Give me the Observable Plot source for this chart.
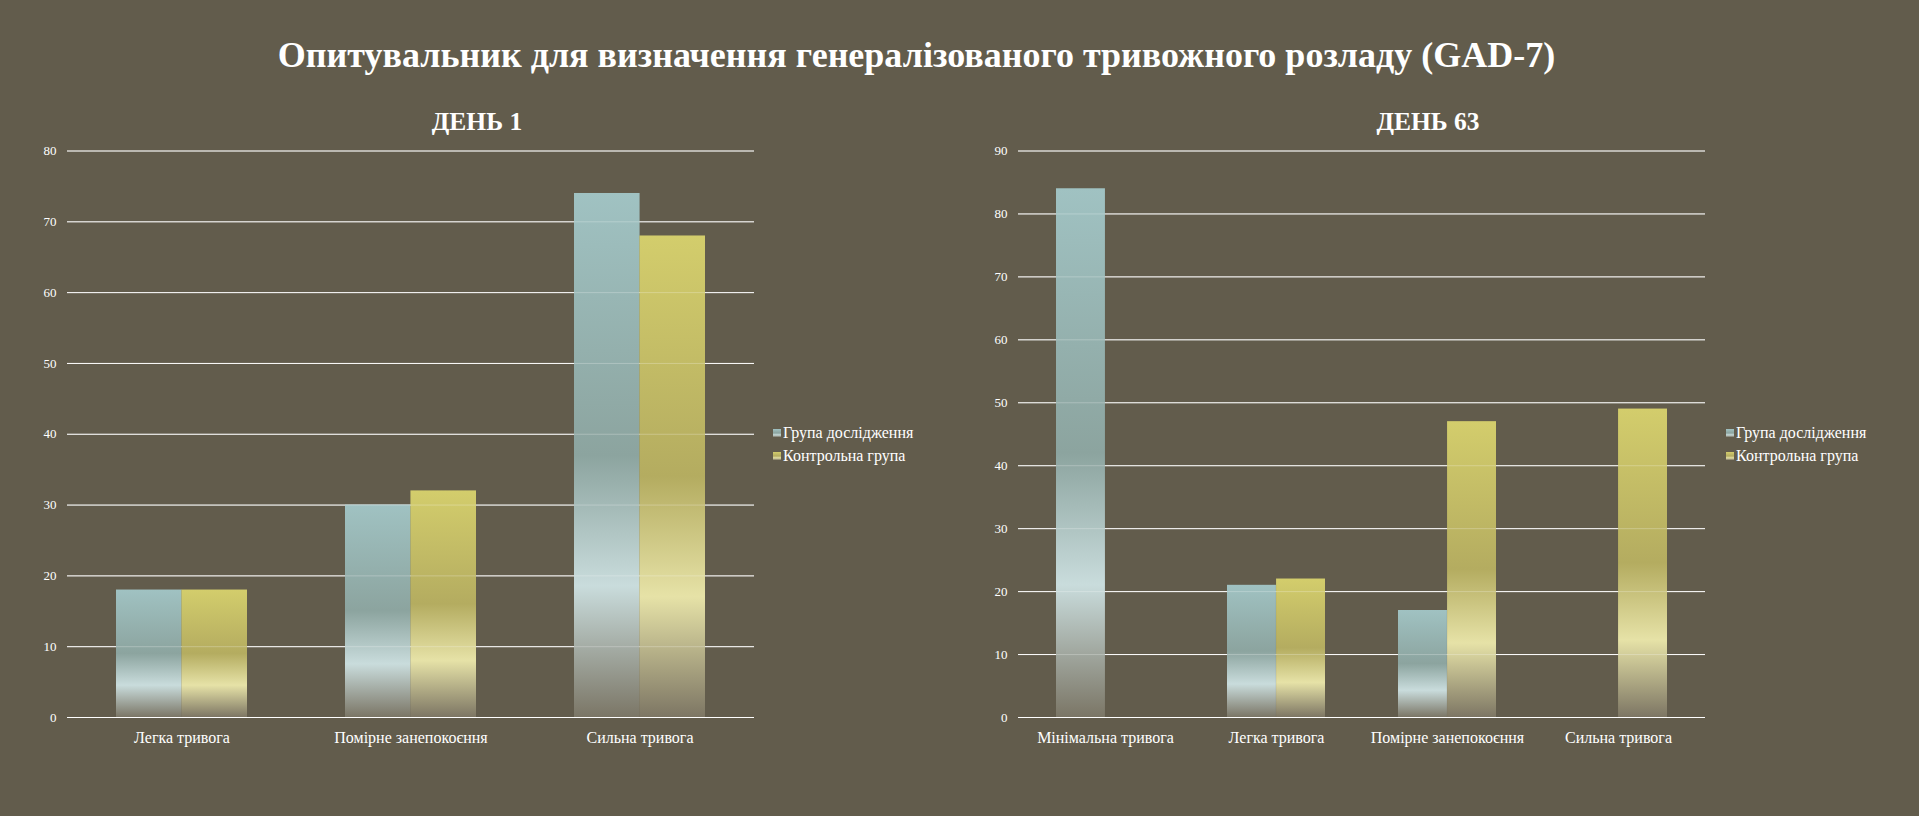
<!DOCTYPE html>
<html>
<head>
<meta charset="utf-8">
<script src="https://cdn.jsdelivr.net/npm/d3@7"></script>
<script src="https://cdn.jsdelivr.net/npm/@observablehq/plot@0.6"></script>
<style>
  html, body { margin: 0; padding: 0; }
  body { width: 1919px; height: 816px; background: #625c4c; position: relative; overflow: hidden;
         font-family: "Liberation Serif", "Times New Roman", serif; color: #fff; }
  .title { position: absolute; top: 37px; left: 0; width: 1833px; text-align: center;
           font-size: 36px; line-height: 36px; font-weight: bold; white-space: nowrap; }
  .sub { position: absolute; top: 109px; width: 400px; text-align: center;
         font-size: 25.5px; line-height: 25px; font-weight: bold; }
  .chart { position: absolute; top: 130px; }
  .legend { position: absolute; top: 421.5px; font-size: 16px; }
  .legend .row { height: 23.3px; display: flex; align-items: center; white-space: nowrap; }
  .legend .sw { width: 8px; height: 8px; margin-right: 2px; }
</style>
</head>
<body>
<div class="title">Опитувальник для визначення генералізованого тривожного розладу (GAD-7)</div>
<div class="sub" style="left:277px">ДЕНЬ 1</div>
<div class="sub" style="left:1228px">ДЕНЬ 63</div>
<div id="c1" class="chart" style="left:0px"></div>
<div id="c2" class="chart" style="left:960px"></div>
<div id="l1" class="legend" style="left:773px"></div>
<div id="l2" class="legend" style="left:1726px"></div>
<script>
// ---- data ----
const seriesNames = ["Група дослідження", "Контрольна група"];

const categories1 = ["Легка тривога", "Помірне занепокоєння", "Сильна тривога"];
const study1 = [18, 30, 74];
const control1 = [18, 32, 68];
const yTicks1 = [0, 10, 20, 30, 40, 50, 60, 70, 80];

const categories2 = ["Мінімальна тривога", "Легка тривога", "Помірне занепокоєння", "Сильна тривога"];
const study2 = [84, 21, 17, null];
const control2 = [null, 22, 47, 49];
const yTicks2 = [0, 10, 20, 30, 40, 50, 60, 70, 80, 90];

// ---- styling ----
const studyStops = [[0, "#a0c2c2"], [0.5, "#8ca49f"], [0.75, "#c9dcdc"], [1, "#7b7666"]];
const controlStops = [[0, "#d3cd6c"], [0.5, "#b4ac60"], [0.75, "#e6e2a7"], [1, "#7d7664"]];

function addGradient(defs, id, stops) {
  const g = defs.append("linearGradient").attr("id", id)
    .attr("x1", 0).attr("y1", 0).attr("x2", 0).attr("y2", 1);
  stops.forEach(([o, c]) => g.append("stop").attr("offset", o).attr("stop-color", c));
}

function makeChart(el, key, cats, study, control, yTicks, margins) {
  const rows = [];
  cats.forEach((c, i) => {
    if (study[i] != null) rows.push({cat: c, series: seriesNames[0], value: study[i]});
    if (control[i] != null) rows.push({cat: c, series: seriesNames[1], value: control[i]});
  });
  const base = (bw, withBars) => ({
    width: 760,
    height: 630,
    marginTop: margins.top,
    marginBottom: margins.bottom,
    marginLeft: margins.left,
    marginRight: margins.right,
    style: {background: "transparent", color: "#ffffff", fontFamily: "Liberation Serif, Times New Roman, serif", fontSize: "13px", overflow: "visible"},
    x: {domain: cats, paddingInner: 3 / 7, paddingOuter: 1.5 / 7, tickSize: 0, tickPadding: 14, label: null},
    y: {domain: [yTicks[0], yTicks[yTicks.length - 1]], ticks: yTicks, tickSize: 0, tickPadding: 11, label: null},
    marks: [
      Plot.ruleY(yTicks, {stroke: "#ffffff", strokeWidth: 1}),
      ...(withBars ? [
        Plot.barY(rows.filter(d => d.series === seriesNames[0]), {x: "cat", y: "value", fill: `url(#gS${key})`, insetRight: bw / 2}),
        Plot.barY(rows.filter(d => d.series === seriesNames[1]), {x: "cat", y: "value", fill: `url(#gC${key})`, insetLeft: bw / 2}),
        Plot.ruleY(yTicks, {stroke: "#ffffff", strokeWidth: 1, strokeOpacity: 0.25})
      ] : [])
    ]
  });
  const probe = Plot.plot(base(0, false));
  let bw = probe.scale("x").bandwidth;
  if (!(bw > 0)) {
    bw = d3.scaleBand().domain(cats).range([margins.left, 760 - margins.right])
      .paddingInner(3 / 7).paddingOuter(1.5 / 7).bandwidth();
  }
  const svg = Plot.plot(base(bw, true));
  const defs = d3.select(svg).insert("defs", ":first-child");
  addGradient(defs, `gS${key}`, studyStops);
  addGradient(defs, `gC${key}`, controlStops);
  d3.select(svg).selectAll('g[aria-label^="x-axis"] text').attr("font-size", 16);
  el.appendChild(svg);
}

makeChart(document.getElementById("c1"), 1, categories1, study1, control1, yTicks1,
  {top: 20.5, bottom: 43, left: 67, right: 6});
makeChart(document.getElementById("c2"), 2, categories2, study2, control2, yTicks2,
  {top: 20.5, bottom: 43, left: 58, right: 15});

function legend(el) {
  const css = stops => `linear-gradient(to bottom, ${stops.map(([o, c]) => `${c} ${o * 100}%`).join(", ")})`;
  [[seriesNames[0], studyStops], [seriesNames[1], controlStops]].forEach(([name, stops]) => {
    const row = document.createElement("div");
    row.className = "row";
    const sw = document.createElement("div");
    sw.className = "sw";
    sw.style.background = css(stops);
    const t = document.createElement("span");
    t.textContent = name;
    row.appendChild(sw); row.appendChild(t);
    el.appendChild(row);
  });
}
legend(document.getElementById("l1"));
legend(document.getElementById("l2"));
</script>
</body>
</html>
